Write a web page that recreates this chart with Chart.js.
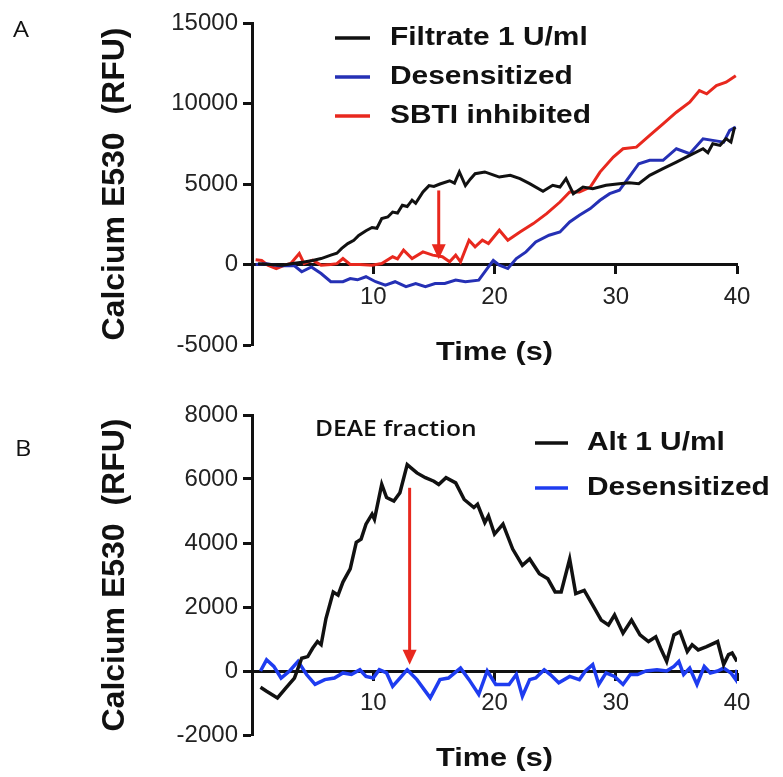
<!DOCTYPE html>
<html>
<head>
<meta charset="utf-8">
<title>Calcium E530 traces</title>
<script src="https://cdn.jsdelivr.net/npm/chart.js@4.4.1/dist/chart.umd.min.js"></script>
<style>
  html, body { margin: 0; padding: 0; background: #fff; }
  #wrap { position: relative; width: 783px; height: 777px; }
  canvas { position: absolute; left: 0; }
  #chartA { top: 0; }
  #chartB { top: 390px; }
</style>
</head>
<body>
<div id="wrap">
  <canvas id="chartA" width="783" height="390"></canvas>
  <canvas id="chartB" width="783" height="387"></canvas>
</div>
<script>
// ---------- PANEL A DATA (time in s, RFU) ----------
const timeA_filtrate = [0.5, 1.5, 2.5, 3.5, 4.3, 5.0, 5.7, 6.5, 7.0, 7.4, 7.9, 8.4, 8.8, 9.4, 9.9, 10.3, 10.7, 11.2, 11.6, 12.0, 12.4, 12.8, 13.2, 13.5, 14.1, 14.6, 15.0, 15.5, 16.3, 16.7, 17.1, 17.6, 18.0, 18.4, 19.2, 20.0, 20.4, 21.3, 22.1, 22.9, 24.0, 24.8, 25.4, 25.9, 26.5, 27.3, 28.1, 29.2, 30.3, 31.1, 31.9, 32.8, 33.9, 35.0, 36.1, 37.2, 37.6, 38.0, 38.6, 39.1, 39.5, 39.8];
const valueA_filtrate = [50, 0, -50, 80, 150, 250, 370, 580, 700, 1000, 1300, 1500, 1800, 2100, 2300, 2250, 2850, 2950, 3260, 3200, 3680, 3600, 4000, 3800, 4500, 4900, 4850, 5000, 5200, 5050, 5750, 4900, 5300, 5640, 5750, 5540, 5430, 5540, 5330, 5020, 4550, 4920, 4810, 5330, 4400, 4810, 4710, 4920, 5020, 5080, 5020, 5540, 5950, 6360, 6780, 7190, 6950, 7500, 7400, 7810, 7600, 8530];

const timeA_desens = [0.3, 1.2, 2.2, 3.5, 4.1, 4.9, 5.7, 6.5, 7.5, 8.1, 8.7, 9.4, 10.2, 11.0, 11.8, 12.7, 13.5, 14.3, 15.1, 15.9, 16.8, 17.6, 18.7, 19.5, 19.9, 20.4, 21.1, 21.8, 22.6, 23.4, 24.5, 25.4, 26.2, 27.0, 27.9, 28.7, 29.5, 30.3, 31.1, 31.9, 32.8, 33.9, 35.0, 36.1, 37.2, 38.0, 38.9, 39.4, 39.9];
const valueA_desens = [0, 50, -80, -80, -450, -150, -560, -1070, -1070, -870, -950, -760, -1070, -1280, -1070, -1380, -1180, -1380, -1180, -1180, -970, -1070, -970, -150, 250, -40, -250, 370, 785, 1400, 1820, 2020, 2640, 3060, 3470, 3990, 4400, 4610, 5430, 6260, 6470, 6470, 7190, 6880, 7810, 7710, 7600, 8330, 8530];

const timeA_sbti = [0.3, 0.8, 1.3, 2.0, 2.7, 3.2, 3.9, 4.3, 5.0, 5.7, 6.5, 7.0, 7.5, 8.1, 8.9, 9.9, 10.7, 11.6, 12.0, 12.5, 13.2, 14.1, 14.9, 15.7, 16.3, 16.8, 17.2, 17.9, 18.4, 19.0, 19.5, 20.4, 21.1, 22.1, 23.2, 24.3, 25.4, 26.2, 27.0, 27.9, 28.7, 29.8, 30.6, 31.7, 32.8, 33.9, 35.0, 36.1, 36.9, 37.5, 38.3, 39.1, 39.9];
const valueA_sbti = [300, 250, -40, -250, -40, 60, 680, 60, 270, -40, 0, 50, 370, 0, 0, -40, 60, 480, 350, 890, 370, 785, 580, 480, 165, 580, 165, 1510, 1100, 1510, 1300, 2130, 1510, 2020, 2540, 3160, 3880, 4500, 4500, 4810, 5740, 6670, 7190, 7290, 8020, 8740, 9460, 10080, 10800, 10600, 11110, 11320, 11730];

// arrow: time, top value, tip value
const arrowA = [15.4, 4600, 330];

// ---------- PANEL B DATA (time in s, RFU) ----------
const timeB_alt = [0.7, 1.2, 2.1, 2.8, 3.5, 4.1, 4.6, 5.0, 5.4, 5.7, 6.1, 6.7, 7.1, 7.5, 8.1, 8.6, 9.0, 9.4, 9.9, 10.1, 10.7, 11.1, 11.7, 12.2, 12.8, 13.6, 14.3, 15.0, 15.4, 16.0, 16.8, 17.5, 18.3, 18.6, 19.2, 19.5, 20.0, 20.7, 21.5, 22.3, 22.9, 23.7, 24.4, 25.0, 25.5, 26.2, 26.7, 27.4, 28.1, 28.8, 29.4, 29.9, 30.6, 31.3, 32.0, 32.7, 33.3, 33.7, 34.2, 34.8, 35.3, 35.9, 36.3, 36.8, 37.5, 38.4, 38.9, 39.3, 39.6, 40.0];
const valueB_alt = [-506, -630, -840, -530, -220, 400, 450, 710, 920, 820, 1640, 2470, 2370, 2780, 3190, 4020, 4120, 4590, 4900, 4740, 5830, 5420, 5310, 5570, 6450, 6190, 6040, 5930, 5830, 6040, 5880, 5360, 5110, 5210, 4640, 4850, 4280, 4590, 3810, 3300, 3500, 3040, 2880, 2470, 2470, 3500, 2420, 2520, 2060, 1590, 1440, 1750, 1180, 1590, 1130, 920, 1070, 710, 300, 1130, 1230, 610, 820, 660, 760, 920, 200, 510, 560, 300];

const timeB_desens = [0.7, 1.2, 1.8, 2.4, 3.1, 3.8, 4.5, 5.2, 6.0, 6.8, 7.5, 8.2, 8.9, 9.4, 10.0, 10.5, 11.1, 11.6, 12.2, 12.8, 13.6, 14.7, 15.5, 16.2, 17.2, 17.9, 18.7, 19.4, 20.1, 21.2, 21.8, 22.3, 22.9, 23.4, 24.1, 24.6, 25.3, 26.2, 27.0, 27.5, 28.1, 28.6, 29.2, 29.9, 30.6, 31.2, 31.8, 32.5, 33.4, 34.2, 34.8, 35.2, 35.6, 36.1, 36.7, 37.3, 37.8, 38.4, 38.9, 39.5, 39.9, 40.0];
const valueB_desens = [0, 350, 145, -220, 0, 300, -110, -420, -270, -220, -60, -110, 40, -170, -220, 40, -60, -480, -220, 40, -270, -840, -270, -220, 90, -270, -730, 0, -420, -420, -110, -790, -270, -220, 40, -110, -370, -170, -270, 0, 200, -420, -60, -170, -420, -110, -110, 0, 40, 0, 145, 300, -110, 90, -420, 145, -60, 0, 90, -60, -270, 40];

const arrowB = [13.0, 5725, 195];

// ---------- AXES ----------
const yTicksA = [-5000, 15000, 5000]; // min, max, step
const yTicksB = [-2000, 8000, 2000];
const xTicks = [0, 40, 10];

const INK = "#111";
const RED = "#e8281e";

function pairs(ts, vs) {
  return ts.map((t, i) => ({ x: t, y: vs[i] }));
}

function stretchedText(ctx, text, x, y, sx, align) {
  ctx.save();
  ctx.translate(x, y);
  ctx.scale(sx, 1);
  ctx.textAlign = align || "left";
  ctx.textBaseline = "middle";
  ctx.fillText(text, 0, 0);
  ctx.restore();
}

// ---------- legend, arrow, labels drawn on the canvas ----------
const figureExtras = {
  id: "figureExtras",
  afterDatasetsDraw(chart, args, opts) {
    const { ctx, scales } = chart;
    const a = opts.arrow;
    if (!a) return;
    const x = scales.x.getPixelForValue(a[0]);
    const y1 = scales.y.getPixelForValue(a[1]);
    const y2 = scales.y.getPixelForValue(a[2]);
    ctx.save();
    ctx.strokeStyle = RED;
    ctx.fillStyle = RED;
    ctx.lineWidth = 3;
    ctx.beginPath();
    ctx.moveTo(x, y1);
    ctx.lineTo(x, y2 - 12);
    ctx.stroke();
    ctx.beginPath();
    ctx.moveTo(x - 7, y2 - 15);
    ctx.lineTo(x + 7, y2 - 15);
    ctx.lineTo(x, y2);
    ctx.closePath();
    ctx.fill();
    ctx.restore();
  },
  afterDraw(chart, args, opts) {
    const { ctx, chartArea, scales } = chart;
    ctx.save();
    ctx.fillStyle = INK;

    // panel letter
    ctx.font = '22px "Open Sans"';
    stretchedText(ctx, opts.panel[0], opts.panel[1], opts.panel[2], 1.15);

    // note text
    if (opts.note) {
      ctx.font = '600 22px "Open Sans"';
      stretchedText(ctx, opts.note[0], opts.note[1], opts.note[2], 1.12);
    }

    // legend
    const lg = opts.legend;
    chart.data.datasets.forEach((ds, i) => {
      const y = lg.y + i * lg.gap;
      ctx.strokeStyle = ds.borderColor;
      ctx.lineWidth = 3.5;
      ctx.beginPath();
      ctx.moveTo(lg.lineX, y);
      ctx.lineTo(lg.lineX + lg.lineLen, y);
      ctx.stroke();
      ctx.fillStyle = INK;
      ctx.font = 'bold 26px "Liberation Sans"';
      stretchedText(ctx, ds.label, lg.textX, y, 1.15);
    });

    // x title, under the zero axis
    const axisY = scales.y.getPixelForValue(0);
    ctx.font = 'bold 26px "Liberation Sans"';
    stretchedText(ctx, "Time (s)", (chartArea.left + chartArea.right) / 2, axisY + 88, 1.18, "center");
    ctx.restore();
  }
};

function makeChart(id, datasets, yt, padding, lineW, extras) {
  const tickFont = { family: "Liberation Sans", size: 24 };
  return new Chart(document.getElementById(id), {
    type: "line",
    data: { datasets },
    plugins: [figureExtras],
    options: {
      responsive: false,
      animation: false,
      layout: { padding },
      elements: { point: { radius: 0 }, line: { borderWidth: lineW, tension: 0 } },
      plugins: {
        legend: { display: false },
        tooltip: { enabled: false },
        figureExtras: extras,
      },
      scales: {
        x: {
          type: "linear",
          position: { y: 0 },
          min: xTicks[0],
          max: xTicks[1],
          ticks: { stepSize: xTicks[2], padding: 10, color: "#222", font: tickFont },
          afterBuildTicks: s => { s.ticks = s.ticks.filter(t => t.value !== 0); },
          grid: { drawOnChartArea: false, tickLength: 8, tickWidth: 3, tickColor: INK, color: INK },
          border: { display: true, color: INK, width: 3 },
        },
        y: {
          min: yt[0],
          max: yt[1],
          ticks: { stepSize: yt[2], padding: 5, color: "#222", font: tickFont, callback: v => String(v) },
          grid: { drawOnChartArea: false, tickLength: 9, tickWidth: 3, tickColor: INK, color: INK },
          border: { display: true, color: INK, width: 3 },
          title: {
            display: true,
            text: "Calcium E530  (RFU)",
            color: INK,
            font: { family: "Liberation Sans", size: 32, weight: "bold" },
            padding: { top: 96, bottom: 0 },
          },
          afterFit: s => { s.width = 252; },
        },
      },
    },
  });
}

// ---------- BUILD ----------
makeChart("chartA", [
  { label: "Filtrate 1 U/ml", data: pairs(timeA_filtrate, valueA_filtrate), borderColor: INK },
  { label: "Desensitized", data: pairs(timeA_desens, valueA_desens), borderColor: "#2530b5" },
  { label: "SBTI inhibited", data: pairs(timeA_sbti, valueA_sbti), borderColor: RED },
], yTicksA, { top: 23, bottom: 45, right: 46, left: 0 }, 3, {
  panel: ["A", 13, 31],
  legend: { lineX: 335, lineLen: 35, textX: 390, y: 38, gap: 39 },
  arrow: arrowA,
});

makeChart("chartB", [
  { label: "Alt 1 U/ml", data: pairs(timeB_alt, valueB_alt), borderColor: INK },
  { label: "Desensitized", data: pairs(timeB_desens, valueB_desens), borderColor: "#1e3cf0" },
], yTicksB, { top: 25, bottom: 42, right: 46, left: 0 }, 3.5, {
  panel: ["B", 15, 60],
  note: ["DEAE fraction", 315, 40],
  legend: { lineX: 535, lineLen: 33, textX: 587, y: 53, gap: 45 },
  arrow: arrowB,
});
</script>
</body>
</html>
